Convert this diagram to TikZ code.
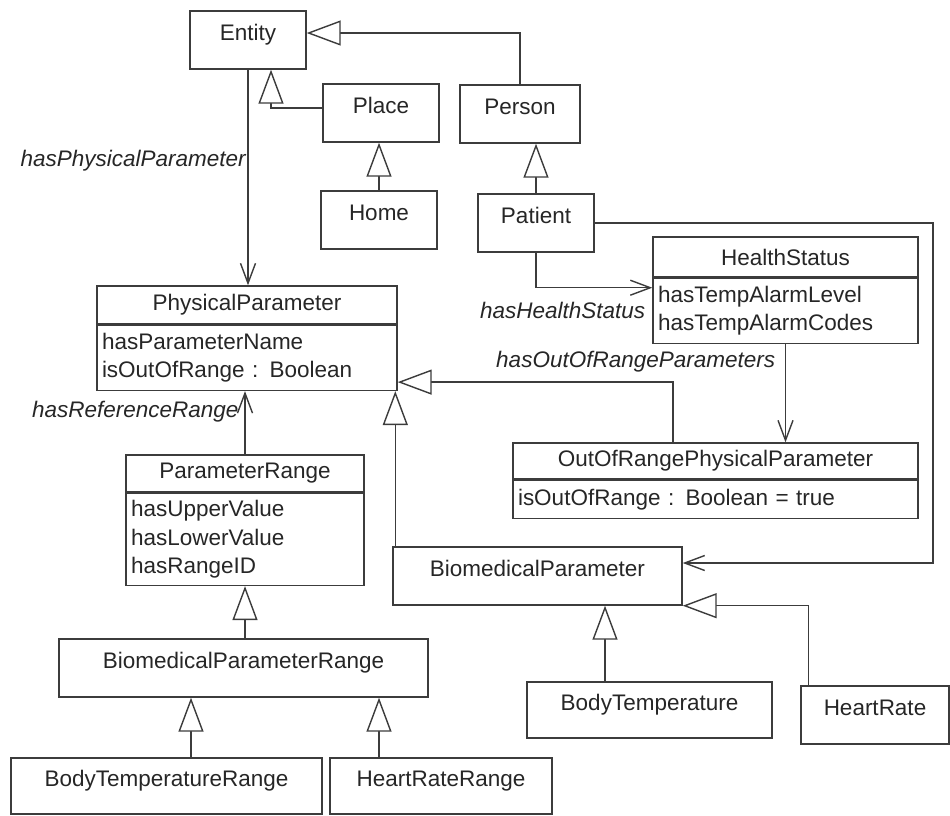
\documentclass[tikz,border=0pt]{standalone}
\usepackage{fontspec}
\setmainfont{Liberation Sans}
\usetikzlibrary{arrows.meta}
\definecolor{umlgray}{HTML}{3C3C3C}
\newcommand{\umlfont}{\fontsize{12.8}{16.2}\selectfont}

\begin{document}
\begin{tikzpicture}[
    classBox/.style={draw=umlgray, line width=0.8pt, inner sep=0pt, text height=0.8em, text depth=0.7em},
    headBox/.style={draw=umlgray, line width=0.8pt, inner sep=0pt},
    attrBox/.style={draw=umlgray, line width=0.8pt, anchor=north, align=left, inner xsep=0.1cm, inner ysep=0pt},
    role/.style={font=\umlfont\itshape, inner sep=1pt},
    inherit/.style={draw=umlgray, line width=0.8pt, -{Triangle[length=0.68cm, width=0.5cm, fill=white]}},
    assoc/.style={draw=umlgray, line width=0.8pt, -{Straight Barb[length=0.4cm, width=0.3cm]}},
    every node/.style={
        font=\umlfont,
        text=black!85
        }
        ]
    \useasboundingbox (0,0) rectangle (19,-16.3);

    \node[classBox, minimum width=2.32cm, minimum height=1.16cm] (entity) at (4.96,-0.80) {Entity};
    \node[classBox, minimum width=2.32cm, minimum height=1.16cm] (place) at (7.62,-2.26) {Place};
    \node[classBox, minimum width=2.40cm, minimum height=1.16cm] (person) at (10.40,-2.28) {Person};
    \node[classBox, minimum width=2.32cm, minimum height=1.16cm] (home) at (7.58,-4.40) {Home};
    \node[classBox, minimum width=2.32cm, minimum height=1.16cm] (patient) at (10.72,-4.46) {Patient};

    \node[headBox, minimum width=5.30cm, minimum height=0.80cm] (hshead) at (15.71,-5.14) {HealthStatus};
    \node[attrBox, text width=5.10cm, minimum height=1.30cm] (hsattr) at (hshead.south) {hasTempAlarmLevel\\hasTempAlarmCodes};

    \node[headBox, minimum width=6.00cm, minimum height=0.76cm] (pphead) at (4.94,-6.10) {PhysicalParameter};
    \node[attrBox, text width=5.80cm, minimum height=1.30cm] (ppattr) at (pphead.south) {hasParameterName\\isOutOfRange : Boolean};

    \node[headBox, minimum width=8.10cm, minimum height=0.72cm] (oorhead) at (14.31,-9.22) {OutOfRangePhysicalParameter};
    \node[attrBox, text width=7.90cm, minimum height=0.76cm] (oorattr) at (oorhead.south) {isOutOfRange : Boolean = true};

    \node[headBox, minimum width=4.76cm, minimum height=0.74cm] (prhead) at (4.90,-9.47) {ParameterRange};
    \node[attrBox, text width=4.56cm, minimum height=1.84cm] (prattr) at (prhead.south) {hasUpperValue\\hasLowerValue\\hasRangeID};

    \node[classBox, minimum width=5.78cm, minimum height=1.16cm] (biopar) at (10.75,-11.52) {BiomedicalParameter};
    \node[classBox, minimum width=7.38cm, minimum height=1.16cm] (bpr) at (4.87,-13.36) {BiomedicalParameterRange};
    \node[classBox, minimum width=4.90cm, minimum height=1.12cm] (bodytemp) at (12.99,-14.20) {BodyTemperature};
    \node[classBox, minimum width=2.96cm, minimum height=1.16cm] (heartrate) at (17.50,-14.30) {HeartRate};
    \node[classBox, minimum width=6.22cm, minimum height=1.12cm] (btr) at (3.33,-15.72) {BodyTemperatureRange};
    \node[classBox, minimum width=4.44cm, minimum height=1.12cm] (hrr) at (8.82,-15.72) {HeartRateRange};

    \draw[inherit] (person.north) |- ([yshift=0.14cm]entity.east);
    \draw[inherit] ([yshift=0.1cm]place.west) -| ([xshift=0.46cm]entity.south);
    \draw[inherit] (home.north) -- (home.north |- place.south);
    \draw[inherit] (patient.north) -- (patient.north |- person.south);
    \draw[assoc] (entity.south) -- node[role, pos=0.42, anchor=east] (physRole) {hasPhysicalParameter} (entity.south |- pphead.north);

    \draw[assoc] (patient.south) |- ([yshift=-0.2cm]hsattr.north west);
    \node[role, anchor=east, xshift=-0.1cm] (healthRole) at (hsattr.west) {hasHealthStatus};
    \draw[assoc] (hsattr.south) -- node[role, pos=0.18, anchor=east, xshift=-0.16cm] (outRole) {hasOutOfRangeParameters} (hsattr.south |- oorhead.north);

    \draw[inherit] ([xshift=-0.85cm]oorhead.north) |- ([yshift=0.18cm]ppattr.south east);
    \draw[inherit] ([xshift=0.06cm]biopar.north west) -- ([xshift=0.06cm]biopar.north west |- ppattr.south);
    \draw[assoc] (prhead.north) -- node[role, pos=0.68, anchor=east, xshift=-0.08cm] (refRole) {hasReferenceRange} (prhead.north |- ppattr.south);

    \draw[inherit] (prattr.south |- bpr.north) -- (prattr.south);
    \draw[inherit] ([xshift=0.49cm]btr.north) -- ([xshift=0.49cm]btr.north |- bpr.south);
    \draw[inherit] ([xshift=-1.24cm]hrr.north) -- ([xshift=-1.24cm]hrr.north |- bpr.south);
    \draw[inherit] ([xshift=-0.89cm]bodytemp.north) -- ([xshift=-0.89cm]bodytemp.north |- biopar.south);
    \draw[inherit] ([xshift=0.16cm]heartrate.north west) |- (biopar.south east);

    \coordinate (rail) at (18.66,-4.46);
    \draw[assoc] (patient.east) -- (rail) |- ([yshift=0.26cm]biopar.east);
\end{tikzpicture}
\end{document}
